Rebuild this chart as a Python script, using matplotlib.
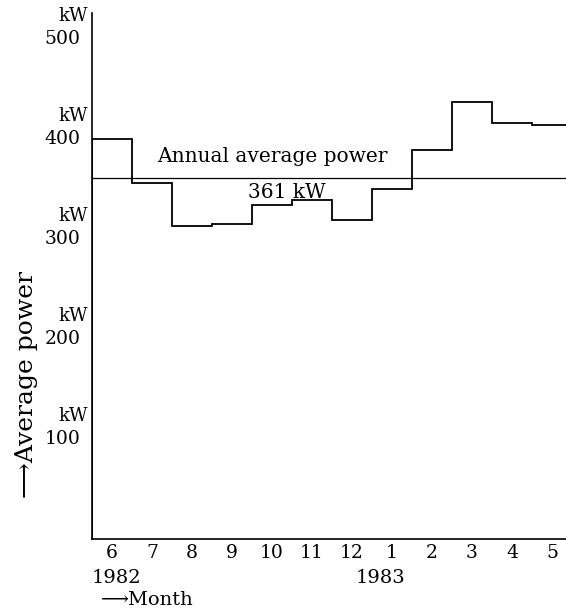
import numpy as np
import matplotlib.pyplot as plt

# monthly average power, June 1982 .. May 1983 (kW)
months = ['6', '7', '8', '9', '10', '11', '12', '1', '2', '3', '4', '5']
power_kw = [400, 356, 313, 315, 334, 339, 319, 350, 389, 437, 416, 414]
annual_avg = 361
y_ticks = [100, 200, 300, 400, 500]

plt.rcParams['font.family'] = ['DejaVu Serif']

fig = plt.figure(figsize=(5.66, 6.12), dpi=100)
ax = fig.add_axes([92 / 566, 73 / 612, 1 - 92 / 566, 526 / 612])

edges = np.arange(len(months) + 1)
ax.stairs(power_kw, edges, color='black', linewidth=1.3)
ax.axhline(annual_avg, color='black', linewidth=0.9)

ax.set_xlim(0, 11.85)
ax.set_ylim(0, 526)

for s in ['top', 'right']:
    ax.spines[s].set_visible(False)
for s in ['left', 'bottom']:
    ax.spines[s].set_linewidth(1.2)
ax.set_xticks([])
ax.set_yticks([])

fs = 13.5
# y tick labels: "kW" over the number
for v in y_ticks:
    ax.text(-0.28, v, str(v), ha='right', va='center', fontsize=fs)
    ax.text(-0.1, v + 23, 'kW', ha='right', va='center', fontsize=fs - 0.5)

# month labels
for i, m in enumerate(months):
    ax.text(i + 0.5, -14, m, ha='center', va='center', fontsize=fs)
ax.text(0.62, -39, '1982', ha='center', va='center', fontsize=14)
ax.text(7.2, -39, '1983', ha='center', va='center', fontsize=14)
ax.text(1.38, -61, '\u27f6Month', ha='center', va='center', fontsize=14)

ax.text(4.52, 382, 'Annual average power', ha='center', va='center', fontsize=14.5)
ax.text(4.88, 347, f'{annual_avg} kW', ha='center', va='center', fontsize=14.5)

fig.text(27 / 566, 1 - 385 / 612, '\u27f6Average power', rotation=90,
         ha='center', va='center', fontsize=18)

fig.savefig('out.png', dpi=100)
